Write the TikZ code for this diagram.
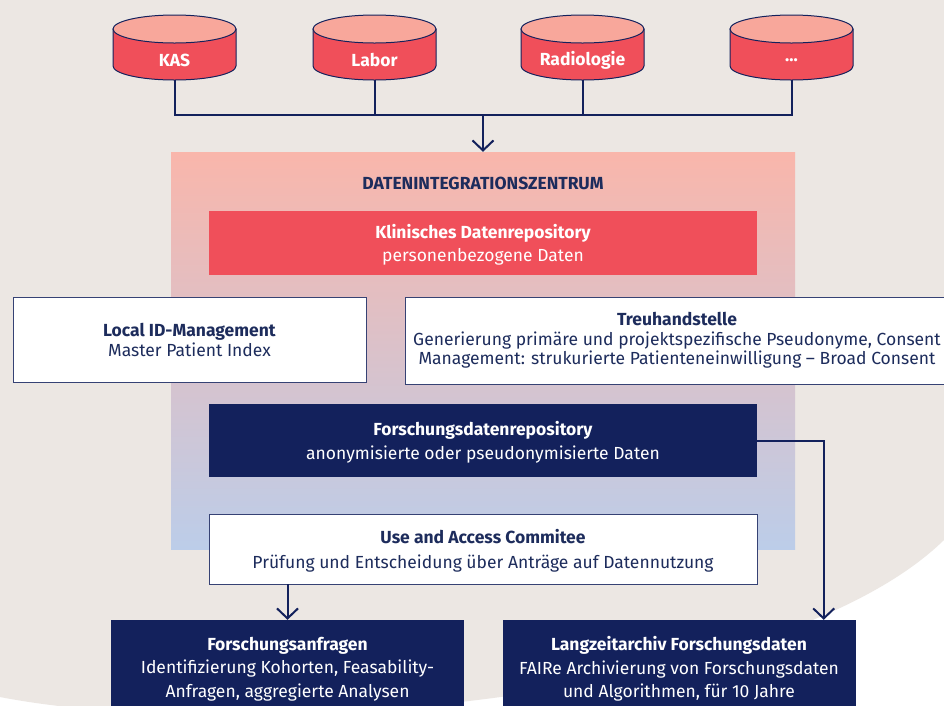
\documentclass[tikz,border=0pt]{standalone}
\usepackage{fontspec}
\setmainfont{Fira Sans}
\usepackage{xcolor}
\usepackage{tikz}
\usetikzlibrary{arrows.meta,positioning}

\definecolor{navy}{HTML}{13215C}
\definecolor{textblau}{HTML}{1D2C5C}
\definecolor{rot}{HTML}{F04F5A}
\definecolor{lachs}{HTML}{F8A79B}
\definecolor{beige}{HTML}{ECE7E3}
\definecolor{verlaufoben}{HTML}{F9B6AB}
\definecolor{verlaufunten}{HTML}{BCCDE9}

\newcommand{\weiterepunkte}{...}

\tikzset{
  schrift/.style={font=\fontsize{17.5}{23.5}\selectfont,text depth=0pt},
  hellbox/.style={schrift,draw=navy!85,line width=0.9pt,fill=white,text=textblau,
    align=center,inner sep=0pt},
  dunkelbox/.style={schrift,fill=navy,text=white,align=center,inner sep=0pt},
  rotbox/.style={schrift,fill=rot,text=white,align=center,inner sep=0pt},
  zylindertext/.style={font=\fontsize{17.5}{20}\selectfont\bfseries,text=white,
    minimum width=123pt,minimum height=40pt,inner sep=0pt},
  verbinder/.style={draw=navy,line width=2pt},
  pfeil/.style={verbinder,-{Straight Barb[length=10pt,width=21pt]}},
}

\begin{document}
\begin{tikzpicture}[x=1pt,y=1pt]
  % Hintergrund
  \clip (0,0) rectangle (944,-705);
  \fill[white] (0,0) rectangle (944,-705);
  \fill[beige] (0,0) -- (944,0) -- (944,-540)
    .. controls (780,-700) and (250,-745) .. (0,-697) -- cycle;

  % Quellsysteme als Datenbanken
  \foreach \cx/\name/\txt in {174.5/kas/KAS,374.5/labor/Labor,
                              582.5/radio/Radiologie,791.5/weitere/\weiterepunkte}{
    \filldraw[draw=navy,line width=1pt,fill=rot]
      (\cx-61.5,-29) -- (\cx-61.5,-66)
      arc[start angle=180,end angle=360,x radius=61.5,y radius=14]
      -- (\cx+61.5,-29) -- cycle;
    \filldraw[draw=navy,line width=1pt,fill=lachs]
      (\cx,-29) ellipse[x radius=61.5,y radius=14];
    \node[zylindertext] (\name) at (\cx,-60) {\txt};
  }
  \coordinate (sammel) at (483,-115);
  \foreach \q in {kas,labor,radio,weitere}
    \draw[verbinder] (\q.south) |- (sammel);

  % Datenintegrationszentrum
  \node[minimum width=624pt,minimum height=397pt,inner sep=0pt,
        top color=verlaufoben,bottom color=verlaufunten] (diz) at (483,-350.5) {};
  \draw[pfeil] (sammel) -- (diz.north);
  \node[font=\fontsize{17.5}{20}\selectfont\bfseries,text=textblau] (diztitel)
    at (483,-183) {DATENINTEGRATIONSZENTRUM};

  \node[rotbox,minimum width=548pt,minimum height=64pt] (kdr) at (483,-243)
    {\textbf{Klinisches Datenrepository}\\personenbezogene Daten};
  \node[hellbox,minimum width=353pt,minimum height=85pt,
        font=\fontsize{17.5}{20}\selectfont] (lidm) at (189.5,-339.5)
    {\textbf{Local ID-Management}\\Master Patient Index};
  \node[hellbox,minimum width=544pt,minimum height=87pt,text depth=4.2pt,
        font=\fontsize{17.5}{19.5}\selectfont] (treu) at (677,-340.5)
    {\textbf{Treuhandstelle}\\
     Generierung primäre und projektspezifische Pseudonyme, Consent\\
     Management: strukurierte Patienteneinwilligung – Broad Consent};
  \node[dunkelbox,minimum width=548pt,minimum height=73pt] (fdr) at (483,-440.5)
    {\textbf{Forschungsdatenrepository}\\anonymisierte oder pseudonymisierte Daten};
  \node[hellbox,minimum width=548pt,minimum height=70pt,
        font=\fontsize{17.5}{25}\selectfont] (uac) at (483,-549)
    {\textbf{Use and Access Commitee}\\
     Prüfung und Entscheidung über Anträge auf Datennutzung};

  % Nutzung
  \node[dunkelbox,minimum width=353pt,minimum height=94pt] (fan) at (287.5,-667)
    {\textbf{Forschungsanfragen}\\Identifizierung Kohorten, Feasability-\\
     Anfragen, aggregierte Analysen};
  \node[dunkelbox,minimum width=353pt,minimum height=94pt] (lza) at (679,-667)
    {\textbf{Langzeitarchiv Forschungsdaten}\\FAIRe Archivierung von Forschungsdaten\\
     und Algorithmen, für 10 Jahre};

  \draw[pfeil] (uac.south -| fan.north) -- (fan.north);
  \draw[pfeil] (fdr.east) -| ([xshift=-32pt]lza.north east);
\end{tikzpicture}
\end{document}
